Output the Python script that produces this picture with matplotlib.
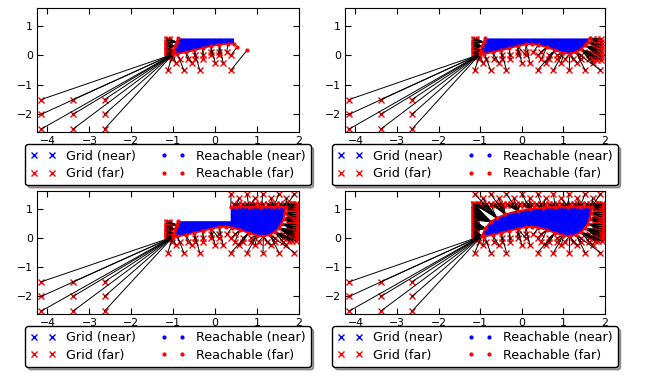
import numpy as np
import matplotlib
matplotlib.use('Agg')
import matplotlib.pyplot as plt

# far grid nodes in the lower-left corner (same in every panel)
LOW_FAR_X = [-4.15, -3.39, -2.64]
LOW_FAR_Y = [-1.5, -2.0, -2.5]

# far grid nodes under the lower boundary, one list per row
ROW_M050 = [-1.13, -0.75, -0.37, 0.38, 0.76, 1.14, 1.52, 1.89]
ROW_M025 = [-0.94, -0.56, 0.0, 0.19, 0.57, 0.95, 1.33, 1.70]
ROW_M012 = [-1.03, -0.85, -0.66, -0.47, -0.28, 0.47, 0.66, 0.85, 1.04, 1.23, 1.42, 1.61]
ROW_000 = [-0.47, -0.28, -0.09, 0.09, 0.38, 0.66, 0.85, 1.42, 1.61]
ROW_012 = [-0.09, 0.09, 0.28, 0.47, 1.61]

# far grid rows above the upper boundary
ROW_150 = [-1.13, -0.75, -0.37, 0.0, 0.38, 0.76, 1.14, 1.52, 1.89]
ROW_135 = [-0.94, -0.56, -0.19, 0.19, 0.57, 0.95, 1.33, 1.70]

# dense far bands along the grid border
BAND_LEFT_X = [-1.15, -1.09]
BAND_LEFT_Y = [-0.05, 0.0, 0.05, 0.10, 0.15, 0.20, 0.25, 0.30, 0.35, 0.40, 0.45, 0.50, 0.55]
BAND_LEFT_Y_HI = [0.60, 0.65, 0.70, 0.75, 0.80, 0.85, 0.90, 0.95, 1.00, 1.05, 1.10, 1.15]
BAND_TOP_Y = [1.12, 1.17]
BAND_TOP_X = [-1.15, -1.05, -0.95, -0.85, -0.75, -0.65, -0.55, -0.45, -0.35, -0.25, -0.15,
              -0.05, 0.05, 0.15, 0.25, 0.35, 0.45, 0.55, 0.65, 0.75, 0.85, 0.95, 1.05,
              1.15, 1.25, 1.35, 1.45, 1.55, 1.65, 1.75, 1.85, 1.92]
BAND_RIGHT_X = [1.76, 1.84, 1.92]
BAND_RIGHT_Y = [-0.10, -0.02, 0.06, 0.14, 0.22, 0.30, 0.38, 0.46, 0.55, 0.63, 0.71, 0.79,
                0.87, 0.95, 1.03, 1.10, 1.17]
P2_RIGHT_X = [1.70, 1.80, 1.90]
P2_RIGHT_Y = [0.55, 0.45, 0.35, 0.25, 0.15, 0.05, -0.05, -0.15]

# reachable boundary pieces
LEFT_EDGE_X = [-0.88, -0.92, -0.96, -0.99, -1.01]
LEFT_EDGE_Y = [0.57, 0.45, 0.30, 0.15, 0.03]
LOWER1_X = [-0.90, -0.70, -0.50, -0.30, -0.10, 0.10, 0.30, 0.45]
LOWER1_Y = [0.05, 0.10, 0.17, 0.24, 0.31, 0.36, 0.39, 0.39]
P1_EXTRA_X = [0.52, 0.76]
P1_EXTRA_Y = [0.28, 0.17]
LOWER_X = [-0.90, -0.70, -0.50, -0.30, -0.10, 0.10, 0.25, 0.40, 0.60, 0.80, 1.00, 1.15,
           1.30, 1.42, 1.52]
LOWER_Y = [0.05, 0.10, 0.17, 0.24, 0.31, 0.37, 0.38, 0.35, 0.27, 0.17, 0.08, 0.05,
           0.10, 0.20, 0.33]
RIGHT2_X = [1.58, 1.63]
RIGHT2_Y = [0.45, 0.57]
RIGHT_X = [1.58, 1.63, 1.66, 1.68]
RIGHT_Y = [0.47, 0.65, 0.85, 1.06]
TOP3_X = [1.40, 1.10, 0.80, 0.50, 0.37]
TOP3_Y = [1.06, 1.06, 1.06, 1.06, 1.06]
TOP4_X = [1.40, 1.10, 0.80, 0.50, 0.20, -0.10, -0.40, -0.60, -0.75, -0.88, -0.96]
TOP4_Y = [1.06, 1.06, 1.05, 1.03, 0.98, 0.92, 0.80, 0.68, 0.55, 0.32, 0.07]

NEAR_TOP = 0.57
STEP_X = 0.37


def cross(xs, ys):
    gx, gy = np.meshgrid(xs, ys)
    return list(gx.ravel()), list(gy.ravel())


def rows(pairs, xmax=9.0):
    fx, fy = [], []
    for y, xs in pairs:
        for x in xs:
            if x <= xmax:
                fx.append(x)
                fy.append(y)
    return fx, fy


def draw_panel(ax, near_x, near_y, reach_x, reach_y, far_x, far_y,
               extra_x=(), extra_y=()):
    ax.fill(near_x, near_y, color='b', lw=0, zorder=1)
    ax.plot(far_x, far_y, 'x', color='r', ms=4.5, mew=1.0, zorder=2)
    tx = np.array(list(reach_x) + list(extra_x))
    ty = np.array(list(reach_y) + list(extra_y))
    for fx, fy in zip(far_x, far_y):
        i = np.argmin((tx - fx) ** 2 + (ty - fy) ** 2)
        ax.plot([fx, tx[i]], [fy, ty[i]], color='k', lw=0.7, zorder=3)
    ax.plot(reach_x, reach_y, '-', color='r', lw=1.3, zorder=4)
    ax.plot(tx, ty, '.', color='r', ms=4, zorder=4)

    h = [ax.plot([], [], 'x', color='b', ms=3.8, mew=1.0, label='Grid (near)')[0],
         ax.plot([], [], 'x', color='r', ms=3.8, mew=1.0, label='Grid (far)')[0],
         ax.plot([], [], '.', color='b', ms=4, label='Reachable (near)')[0],
         ax.plot([], [], '.', color='r', ms=4, label='Reachable (far)')[0]]
    ax.legend(handles=h, loc='upper center', bbox_to_anchor=(0.5, -0.1), ncol=2,
              numpoints=2, fancybox=True, shadow=True, fontsize=9.2,
              handlelength=2.0, handletextpad=0.8, columnspacing=1.9,
              borderpad=0.4, labelspacing=0.35, borderaxespad=0.0,
              framealpha=1, edgecolor='k')

    ax.set_xlim(-4.25, 2.0)
    ax.set_ylim(-2.6, 1.6)
    ax.set_xticks([-4, -3, -2, -1, 0, 1, 2])
    ax.set_yticks([-2, -1, 0, 1])
    ax.tick_params(direction='in', top=True, right=True, labelsize=7.8, length=4, pad=3)


fig = plt.figure(figsize=(6.46, 3.79), dpi=100)
ax1 = fig.add_axes([0.0573, 0.6517, 0.4056, 0.3272])
ax2 = fig.add_axes([0.5341, 0.6517, 0.4025, 0.3272])
ax3 = fig.add_axes([0.0573, 0.1715, 0.4056, 0.3245])
ax4 = fig.add_axes([0.5341, 0.1715, 0.4025, 0.3245])

low_x, low_y = cross(LOW_FAR_X, LOW_FAR_Y)
left_x, left_y = cross(BAND_LEFT_X, BAND_LEFT_Y)
lefthi_x, lefthi_y = cross(BAND_LEFT_X, BAND_LEFT_Y_HI)
under_rows = [(-0.5, ROW_M050), (-0.25, ROW_M025), (-0.125, ROW_M012),
              (0.0, ROW_000), (0.125, ROW_012)]

# panel 1
ux, uy = rows(under_rows, xmax=0.45)
near_x = LEFT_EDGE_X + LOWER1_X + [0.45]
near_y = LEFT_EDGE_Y + LOWER1_Y + [NEAR_TOP]
draw_panel(ax1, near_x, near_y, LEFT_EDGE_X + LOWER1_X, LEFT_EDGE_Y + LOWER1_Y,
           low_x + left_x + ux, low_y + left_y + uy, P1_EXTRA_X, P1_EXTRA_Y)

# panel 2
ux, uy = rows(under_rows)
rx, ry = cross(P2_RIGHT_X, P2_RIGHT_Y)
r2x = LEFT_EDGE_X + LOWER_X + RIGHT2_X
r2y = LEFT_EDGE_Y + LOWER_Y + RIGHT2_Y
draw_panel(ax2, r2x, r2y, r2x, r2y, low_x + left_x + ux + rx, low_y + left_y + uy + ry)

# panel 3
top_x, top_y = cross([x for x in BAND_TOP_X if x >= STEP_X], BAND_TOP_Y)
brx, bry = cross(BAND_RIGHT_X, BAND_RIGHT_Y)
hx, hy = rows([(1.5, ROW_150), (1.35, ROW_135)])
hx, hy = [x for x in hx if x >= STEP_X], [y for x, y in zip(hx, hy) if x >= STEP_X]
r3x = LEFT_EDGE_X + LOWER_X + RIGHT_X + TOP3_X
r3y = LEFT_EDGE_Y + LOWER_Y + RIGHT_Y + TOP3_Y
near3_x = r3x + [STEP_X]
near3_y = r3y + [NEAR_TOP]
draw_panel(ax3, near3_x, near3_y, r3x, r3y,
           low_x + left_x + ux + top_x + brx + hx, low_y + left_y + uy + top_y + bry + hy)

# panel 4
top_x, top_y = cross(BAND_TOP_X, BAND_TOP_Y)
hx, hy = rows([(1.5, ROW_150), (1.35, ROW_135)])
r4x = LOWER_X + RIGHT_X + TOP4_X + [LOWER_X[0]]
r4y = LOWER_Y + RIGHT_Y + TOP4_Y + [LOWER_Y[0]]
draw_panel(ax4, r4x, r4y, r4x, r4y,
           low_x + left_x + lefthi_x + ux + top_x + brx + hx,
           low_y + left_y + lefthi_y + uy + top_y + bry + hy)

fig.savefig('out.png', dpi=100, facecolor='white')
